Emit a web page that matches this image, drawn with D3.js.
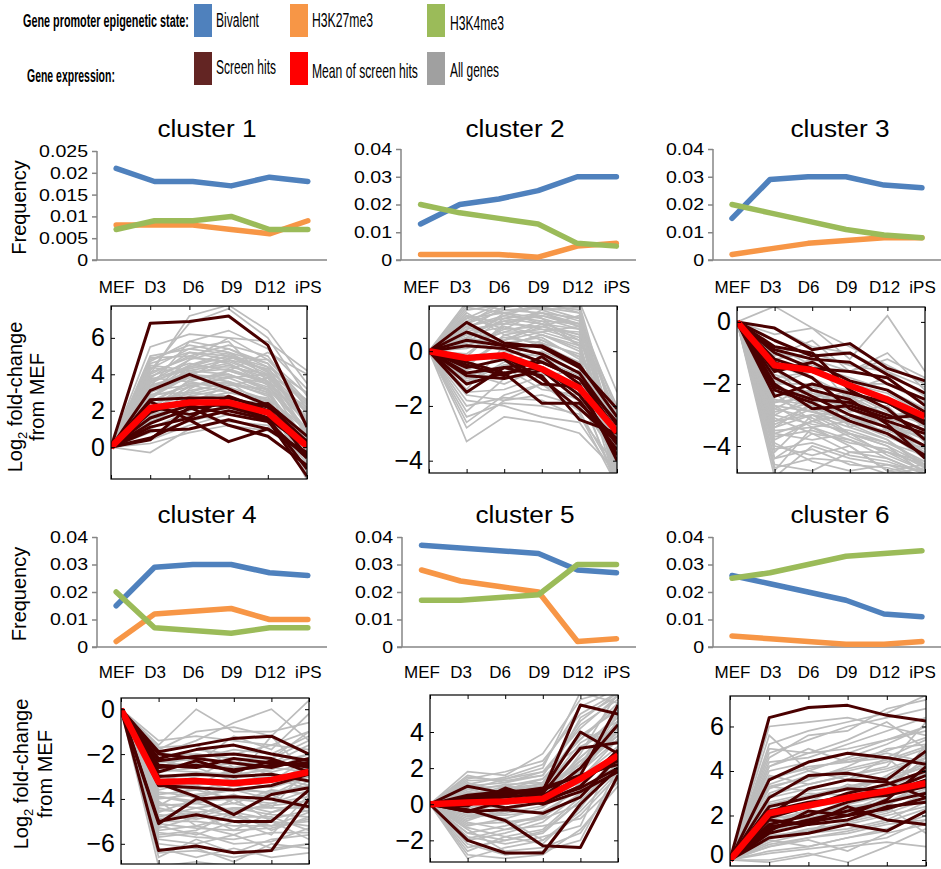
<!DOCTYPE html>
<html>
<head>
<meta charset="utf-8">
<script src="https://cdn.jsdelivr.net/npm/d3@7"></script>
<style>
body { margin: 0; background: #fff; }
svg { display: block; font-family: "Liberation Sans", Arial, sans-serif; }
</style>
</head>
<body>
<svg id="fig" width="941" height="869"></svg>
<script>
// ---- data ----
stages = ["MEF", "D3", "D6", "D9", "D12", "iPS"]
clusterNames = ["cluster 1", "cluster 2", "cluster 3", "cluster 4", "cluster 5", "cluster 6"]

// promoter epigenetic state frequency, one row per cluster
bivalent = [
  [0.021, 0.018, 0.018, 0.017, 0.019, 0.018],
  [0.013, 0.020, 0.022, 0.025, 0.030, 0.030],
  [0.015, 0.029, 0.030, 0.030, 0.027, 0.026],
  [0.015, 0.029, 0.030, 0.030, 0.027, 0.026],
  [0.037, 0.036, 0.035, 0.034, 0.028, 0.027],
  [0.026, 0.023, 0.020, 0.017, 0.012, 0.011]
]
h3k27me3 = [
  [0.008, 0.008, 0.008, 0.007, 0.006, 0.009],
  [0.002, 0.002, 0.002, 0.001, 0.005, 0.006],
  [0.002, 0.004, 0.006, 0.007, 0.008, 0.008],
  [0.002, 0.012, 0.013, 0.014, 0.010, 0.010],
  [0.028, 0.024, 0.022, 0.020, 0.002, 0.003],
  [0.004, 0.003, 0.002, 0.001, 0.001, 0.002]
]
h3k4me3 = [
  [0.007, 0.009, 0.009, 0.010, 0.007, 0.007],
  [0.020, 0.017, 0.015, 0.013, 0.006, 0.005],
  [0.020, 0.017, 0.014, 0.011, 0.009, 0.008],
  [0.020, 0.007, 0.006, 0.005, 0.007, 0.007],
  [0.017, 0.017, 0.018, 0.019, 0.030, 0.030],
  [0.025, 0.027, 0.030, 0.033, 0.034, 0.035]
]
freqTicks = [
  [0, 0.005, 0.01, 0.015, 0.02, 0.025],
  [0, 0.01, 0.02, 0.03, 0.04],
  [0, 0.01, 0.02, 0.03, 0.04],
  [0, 0.01, 0.02, 0.03, 0.04],
  [0, 0.01, 0.02, 0.03, 0.04],
  [0, 0.01, 0.02, 0.03, 0.04]
]

// log2 fold-change from MEF
hitMeans = [
  [0, 2.15, 2.45, 2.45, 1.9, 0.05],
  [0, -0.25, -0.15, -0.65, -1.35, -2.95],
  [0, -1.4, -1.55, -2.05, -2.5, -3.05],
  [0, -3.25, -3.2, -3.3, -3.15, -2.8],
  [0, 0.1, 0.15, 0.3, 1.4, 2.7],
  [0, 2.1, 2.45, 2.8, 3.1, 3.45]
]
exprTicks = [[0, 2, 4, 6], [-4, -2, 0], [-4, -2, 0], [-6, -4, -2, 0], [-2, 0, 2, 4], [0, 2, 4, 6]]

hits1 = [
  [0, 6.8, 6.9, 7.2, 5.6, 1.1], [0, 3.1, 4.0, 3.2, 2.3, 0.3], [0, 2.6, 2.7, 2.7, 2.2, -0.5],
  [0, 2.5, 1.5, 0.3, 1.0, -0.4], [0, 1.3, 2.1, 2.4, 1.6, -1.2], [0, 0.5, 1.5, 2.0, 1.5, -1.6],
  [0, 1.6, 2.3, 1.8, 1.4, -0.6], [0, 2.2, 1.8, 2.2, 2.4, 0.6], [0, 0.9, 1.0, 1.5, 1.0, -0.3],
  [0, 1.9, 2.6, 2.2, 1.6, 0.0], [0, 0.4, 2.2, 1.2, 0.6, -1.0], [0, 1.1, 1.6, 2.8, 2.0, 0.3]
]
hits2 = [
  [0, 1.05, 0.3, 0.15, -0.6, -2.1], [0, 0.7, 0.2, 0.2, -0.5, -2.4], [0, 0.4, 0.2, -0.1, -0.8, -2.7],
  [0, -1.5, -0.6, -0.4, -1.0, -2.9], [0, -1.2, -0.8, -1.9, -1.9, -3.2], [0, -0.4, -0.8, -0.6, -1.6, -3.4],
  [0, -0.8, -0.6, -0.9, -2.5, -3.0], [0, -0.6, -0.3, -1.2, -1.3, -3.8], [0, 0.2, 0.1, -0.4, -1.0, -2.6],
  [0, -0.9, -1.0, -0.7, -1.8, -3.6], [0, -0.2, -0.2, -1.0, -2.1, -3.3], [0, -0.5, -0.9, -0.2, -1.2, -4.0]
]
hits3 = [
  [0, -0.2, -0.9, -0.7, -1.5, -1.9], [0, -0.6, -1.1, -1.0, -1.7, -2.3], [0, -0.9, -1.2, -1.3, -2.0, -2.5],
  [0, -1.0, -1.5, -1.6, -1.8, -2.7], [0, -1.6, -1.3, -1.9, -2.2, -2.9], [0, -2.4, -2.0, -2.3, -2.6, -3.2],
  [0, -2.1, -2.5, -2.6, -3.0, -3.5], [0, -1.3, -1.8, -2.8, -3.2, -3.6], [0, -1.8, -2.4, -3.0, -3.4, -4.0],
  [0, -2.2, -2.6, -3.2, -3.6, -4.3], [0, -0.8, -1.0, -2.2, -2.8, -3.8], [0, -1.5, -2.2, -2.5, -3.3, -4.4],
  [0, -1.2, -1.6, -2.0, -2.6, -3.3], [0, -2.0, -2.8, -2.7, -3.1, -3.0]
]
hits4 = [
  [0, -1.9, -1.6, -1.3, -1.2, -2.0], [0, -2.2, -1.8, -1.6, -2.0, -2.3], [0, -2.0, -2.2, -2.4, -2.6, -2.2],
  [0, -2.5, -2.6, -2.2, -2.4, -2.5], [0, -2.8, -2.3, -2.8, -2.3, -2.6], [0, -3.0, -2.9, -3.0, -2.9, -3.2],
  [0, -3.4, -3.5, -3.6, -3.4, -2.9], [0, -3.3, -3.9, -4.7, -3.8, -3.5], [0, -5.0, -4.7, -5.0, -5.0, -3.6],
  [0, -5.1, -4.0, -3.9, -4.0, -4.35], [0, -6.3, -6.1, -6.4, -6.3, -4.0], [0, -2.6, -2.5, -2.7, -2.5, -2.4],
  [0, -2.3, -2.1, -2.0, -2.2, -2.8]
]
hits5 = [
  [0, 1.0, 0.6, 0.7, 5.5, 5.0], [0, 0.3, 0.5, 0.8, 4.0, 2.8], [0, 0.2, 0.4, 0.6, 3.1, 3.4],
  [0, 0.1, 0.6, 0.9, 1.6, 5.5], [0, 0.2, 0.8, 0.4, 2.0, 4.4], [0, -0.4, 0.2, 0.5, 1.4, 2.4],
  [0, -0.1, 0.9, 0.2, 0.9, 2.0], [0, 0.4, 0.6, 0.0, 0.7, 1.8], [0, -0.3, -0.9, -2.3, -2.4, 1.6],
  [0, -2.0, -2.7, -2.7, 0.0, 2.0], [0, -0.4, -0.3, -0.5, 0.4, 2.6], [0, 0.2, -0.2, 0.1, 1.0, 3.0],
  [0, 0.5, 0.7, 0.8, 1.6, 2.2]
]
hits6 = [
  [0, 6.4, 6.85, 6.95, 6.5, 6.25], [0, 3.6, 4.4, 4.8, 4.6, 4.3], [0, 2.8, 3.8, 3.9, 3.6, 4.9],
  [0, 2.0, 3.2, 3.6, 3.5, 2.8], [0, 1.9, 2.4, 3.0, 3.4, 4.0], [0, 1.6, 2.0, 2.6, 3.0, 3.6],
  [0, 1.4, 1.8, 2.2, 2.6, 3.0], [0, 1.2, 1.6, 1.8, 2.4, 2.6], [0, 1.8, 1.6, 2.4, 1.8, 1.6],
  [0, 1.0, 1.2, 1.6, 1.3, 2.2], [0, 2.2, 2.6, 2.8, 2.9, 3.3], [0, 1.5, 1.7, 2.0, 2.3, 2.8],
  [0, 1.3, 2.2, 2.0, 2.7, 4.2], [0, 2.4, 2.8, 3.2, 3.1, 3.8]
]

genes1 = [
  [0, 4.8, 5.6, 5.2, 4.1, 2.0], [0, 4.2, 6.8, 7.6, 6.0, 2.8], [0, 3.5, 4.5, 5.0, 4.2, 1.2],
  [0, 2.8, 4.0, 4.5, 3.8, 0.6], [0, 5.5, 6.2, 6.0, 4.8, 2.5], [0, 3.9, 4.6, 4.2, 3.5, 0.2],
  [0, 2.2, 3.3, 3.8, 3.0, -0.5], [0, 1.5, 2.8, 3.2, 2.4, -1.0], [0, 4.6, 5.2, 4.8, 3.9, 1.5],
  [0, 3.0, 3.8, 4.0, 3.2, 0.9], [0, -0.3, 1.0, 1.5, 1.0, -0.6], [0, 0.8, 1.4, 2.0, 1.8, -0.2],
  [0, 1.0, 2.0, 2.6, 2.0, 0.3], [0, 3.3, 5.8, 6.4, 5.4, 3.2], [0, 4.0, 5.0, 5.6, 5.0, 2.1],
  [0, 2.5, 3.5, 3.3, 2.6, 0.0], [0, 4.4, 4.0, 3.6, 2.8, -0.8], [0, 3.6, 4.8, 5.4, 4.6, 1.8],
  [0, 2.0, 2.6, 3.0, 2.5, -1.4], [0, 3.2, 4.2, 4.6, 3.4, 1.0], [0, 4.9, 5.0, 4.6, 3.6, 0.7],
  [0, 1.2, 3.2, 4.2, 3.6, 1.4], [0, 2.6, 4.4, 5.0, 4.4, 3.0], [0, 3.8, 3.6, 3.2, 2.2, -1.8],
  [0, 0.4, 1.2, 1.8, 1.4, 0.2], [0, 4.0, 7.2, 7.8, 6.4, 3.5], [0, 1.8, 2.2, 2.0, 1.6, -0.9],
  [0, 2.9, 3.0, 3.6, 3.0, 0.4], [0, 4.3, 5.4, 5.8, 3.6, 2.2], [0, 3.4, 4.0, 3.8, 4.0, 1.6],
  [0, 2.4, 3.6, 4.2, 5.2, 4.0], [0, 1.6, 1.8, 1.4, 1.2, -1.2], [0, 3.0, 4.8, 6.0, 5.8, 4.2],
  [0, 2.1, 3.0, 2.8, 2.0, 0.8], [0, 3.7, 4.4, 4.4, 4.0, 2.6], [0, 4.7, 5.8, 5.4, 4.4, 1.1],
  [0, 1.4, 2.4, 3.4, 3.2, -0.3], [0, 2.7, 3.9, 4.9, 4.8, 2.9], [0, 3.1, 3.4, 3.0, 2.6, -1.6],
  [0, 0.2, 0.8, 1.2, 0.9, -0.4], [0, 3.3, 4.1, 4.3, 3.6, 1.3], [0, 2.3, 3.1, 3.5, 2.9, 0.5],
  [0, 4.1, 4.9, 4.7, 3.9, 1.9], [0, 3.6, 4.3, 4.8, 4.3, 2.3], [0, 2.0, 3.7, 4.0, 3.1, 0.1],
  [0, 1.7, 2.5, 3.0, 2.7, 0.9], [0, 4.5, 4.2, 4.0, 3.3, 1.0], [0, 2.8, 3.3, 3.9, 3.5, 1.7],
  [0, 3.0, 4.5, 5.2, 4.6, 2.4], [0, 1.9, 3.4, 3.6, 2.2, -0.2], [0, 3.8, 5.2, 5.0, 4.0, 0.8],
  [0, 2.6, 2.9, 3.4, 3.8, 2.0], [0, 1.1, 1.7, 2.3, 2.6, 1.1], [0, 5.0, 5.4, 5.1, 4.2, 1.4]
]
genes2 = [
  [0, 1.8, 1.5, 1.6, 1.2, -2.4], [0, 1.2, 1.4, 1.0, 0.6, -3.0], [0, 0.8, 1.0, 1.3, 0.9, -4.8],
  [0, -1.6, -1.8, -1.2, -2.2, -4.6], [0, -3.3, -2.4, -2.6, -3.0, -4.4], [0, -2.0, -1.7, -1.8, -2.4, -4.2],
  [0, 0.3, 1.2, 1.0, 0.2, -3.8], [0, -0.6, 0.6, 0.8, 0.4, -2.8], [0, 1.0, 1.8, 1.6, 1.8, -1.5],
  [0, 0.5, 0.2, 0.6, 0.1, -3.4], [0, -1.0, -0.8, -0.4, -1.0, -3.6], [0, -2.6, -1.6, -1.2, -1.8, -4.0],
  [0, 1.4, 0.6, 0.2, -0.4, -5.0], [0, 0.9, 1.2, 1.4, 1.0, -2.0], [0, -0.3, -0.2, 0.3, -0.5, -4.2],
  [0, -1.4, 0.2, 0.6, 0.0, -3.2], [0, 1.6, 1.4, 1.2, 0.8, -4.5], [0, 0.6, 0.9, 0.4, -0.2, -2.6],
  [0, -0.8, -1.2, -0.6, -1.4, -5.0], [0, -2.2, -1.0, -0.8, -1.2, -3.0], [0, 1.1, 1.6, 1.8, 1.4, -3.6],
  [0, 0.2, 0.7, 1.1, 0.4, -4.8], [0, -1.8, -2.0, -2.4, -2.6, -4.6], [0, 0.4, 0.0, -0.2, -0.8, -3.9],
  [0, 1.7, 1.9, 1.2, 0.2, -4.2], [0, -0.4, 0.4, 0.9, 1.3, -2.2], [0, -1.2, -0.4, 0.0, -0.6, -4.4],
  [0, 0.7, 1.1, 0.8, 0.7, -3.3], [0, -2.8, -1.8, -1.6, -2.0, -3.7], [0, 1.3, 0.8, 1.5, 1.6, -4.0],
  [0, -0.9, -0.6, -1.4, -1.6, -4.8], [0, 0.1, 0.5, 0.3, -0.1, -2.8], [0, 1.5, 1.7, 2.0, 1.7, -3.0],
  [0, -1.5, -1.4, -0.9, -0.7, -3.5], [0, 0.9, 0.3, 0.5, -0.3, -4.6], [0, -0.2, 1.0, 1.4, 0.9, -5.2],
  [0, -2.4, -1.9, -2.0, -2.3, -4.9], [0, 0.5, 1.3, 1.1, 1.0, -2.5], [0, 0.6, 1.1, 1.3, 1.0, -3.1],
  [0, 1.0, 1.5, 1.4, 1.2, -3.8], [0, 0.2, 0.8, 0.9, 0.6, -4.1], [0, 0.9, 1.3, 1.7, 1.5, -3.4],
  [0, -0.5, 0.4, 0.7, 0.3, -4.4], [0, 1.3, 1.0, 0.9, 0.5, -2.9], [0, 0.4, 1.4, 1.6, 1.4, -4.7],
  [0, -0.1, 0.9, 0.6, 0.2, -3.7], [0, 0.7, 0.4, 1.0, 0.8, -2.3], [0, 1.2, 1.8, 1.5, 1.1, -4.3],
  [0, -0.7, -0.2, 0.4, -0.2, -3.9], [0, 0.3, 0.7, 0.7, 0.9, -4.9], [0, -1.1, -0.5, -0.3, -0.9, -3.1],
  [0, 0.8, 1.6, 1.9, 1.6, -4.0]
]
genes3 = [
  [0, 0.5, -0.2, -0.8, -1.4, -2.0], [0, -0.4, -0.2, -1.2, 0.2, -1.6], [0, -1.0, -1.2, -1.6, -1.0, -2.2],
  [0, -1.8, -1.6, -2.0, -2.3, -3.0], [0, -2.6, -2.4, -2.8, -3.4, -4.2], [0, -3.2, -3.0, -3.4, -3.8, -4.6],
  [0, -4.4, -3.6, -3.8, -4.2, -4.8], [0, -5.0, -4.0, -4.4, -4.6, -5.0], [0, -2.9, -2.6, -3.0, -3.2, -3.6],
  [0, -2.2, -2.8, -3.6, -4.0, -4.9], [0, -3.8, -3.2, -3.0, -3.6, -4.4], [0, -1.4, -1.8, -2.4, -2.6, -3.4],
  [0, -2.0, -2.0, -2.2, -2.8, -3.8], [0, -3.5, -3.4, -3.8, -4.4, -4.9], [0, -2.4, -2.2, -2.6, -3.0, -2.9],
  [0, -1.2, -1.0, -1.4, -1.6, -2.4], [0, -4.0, -4.3, -4.0, -4.8, -4.6], [0, -2.7, -3.4, -3.2, -3.6, -4.0],
  [0, -0.8, -1.4, -1.8, -2.2, -2.8], [0, -3.0, -2.4, -2.4, -3.0, -4.4], [0, -4.6, -4.8, -4.2, -4.4, -4.9],
  [0, -1.6, -1.2, -2.6, -2.4, -3.2], [0, -2.5, -2.9, -3.3, -3.8, -4.7], [0, -3.6, -3.8, -3.6, -3.9, -4.3],
  [0, -2.0, -1.6, -2.0, -2.0, -2.6], [0, -3.3, -2.8, -3.1, -3.4, -3.6], [0, -4.2, -3.0, -3.6, -4.0, -4.6],
  [0, -1.1, -0.6, -1.6, -1.2, -1.8], [0, -2.8, -2.2, -2.9, -2.7, -3.9], [0, -3.9, -4.5, -4.8, -4.6, -4.8],
  [0, -1.9, -2.3, -2.7, -3.2, -4.1], [0, -2.3, -3.2, -2.6, -3.5, -3.3], [0, -4.8, -3.4, -4.0, -4.8, -5.0],
  [0, -3.1, -3.6, -4.2, -4.2, -4.5], [0, -1.5, -2.6, -2.2, -1.8, -2.7], [0, -2.6, -2.0, -3.4, -3.0, -3.0],
  [0, -0.2, -0.8, -1.0, -1.6, -2.1], [0, -3.4, -2.6, -2.4, -3.2, -4.0], [0, -2.7, -2.9, -3.1, -3.6, -4.1],
  [0, -3.0, -3.3, -3.5, -3.9, -4.5], [0, -3.4, -3.0, -3.2, -3.7, -4.2], [0, -2.5, -2.7, -2.8, -3.3, -3.8],
  [0, -3.7, -3.5, -3.9, -4.1, -4.7], [0, -4.1, -3.9, -4.3, -4.5, -4.9], [0, -2.2, -2.5, -2.7, -3.1, -3.5],
  [0, -3.2, -2.7, -3.3, -3.5, -4.0], [0, -4.4, -4.1, -4.6, -4.7, -5.0], [0, -2.8, -3.1, -3.7, -4.2, -4.6],
  [0, -3.6, -3.2, -3.6, -4.3, -4.8], [0, -1.7, -2.1, -2.3, -2.9, -3.3], [0, -4.7, -4.4, -4.5, -4.9, -4.7],
  [0, -2.0, -2.6, -3.0, -3.4, -3.7]
]
genes4 = [
  [0, -1.4, -1.2, -1.4, -1.6, -1.0], [0, -1.6, 0.0, -1.0, -1.0, -0.6], [0, -2.0, -1.4, -0.6, 0.0, -1.4],
  [0, -1.8, -1.0, -0.8, -1.2, 0.4], [0, -2.4, -2.2, -1.8, -2.0, -1.2], [0, -2.8, -2.6, -2.4, -2.4, -2.0],
  [0, -3.0, -3.0, -2.8, -3.2, -2.2], [0, -3.4, -3.6, -3.2, -3.0, -3.4], [0, -3.8, -3.6, -4.0, -3.8, -3.0],
  [0, -4.2, -4.4, -4.2, -4.6, -4.0], [0, -4.6, -4.0, -4.6, -4.2, -3.6], [0, -5.0, -5.0, -5.2, -5.2, -4.6],
  [0, -5.4, -5.2, -5.6, -5.0, -5.2], [0, -5.8, -6.0, -5.6, -6.2, -6.0], [0, -6.2, -6.6, -6.2, -6.6, -6.4],
  [0, -7.0, -6.8, -7.0, -7.0, -6.9], [0, -2.2, -1.8, -2.0, -1.6, -1.8], [0, -3.2, -2.8, -3.0, -2.6, -2.8],
  [0, -4.0, -3.8, -3.6, -4.0, -3.2], [0, -4.8, -4.4, -4.8, -4.8, -5.4], [0, -2.6, -2.0, -2.2, -2.4, -1.6],
  [0, -3.6, -3.2, -3.6, -3.4, -2.4], [0, -4.4, -4.8, -4.4, -4.4, -4.4], [0, -5.2, -5.6, -5.0, -5.6, -3.8],
  [0, -6.6, -5.8, -6.4, -5.8, -5.6], [0, -1.9, -2.4, -1.2, -1.8, -0.2], [0, -2.9, -3.4, -2.6, -2.2, -1.0],
  [0, -3.9, -4.2, -3.8, -4.4, -2.6], [0, -4.3, -3.4, -4.2, -3.6, -3.8], [0, -5.6, -5.4, -4.6, -5.4, -4.8],
  [0, -6.0, -6.2, -6.8, -6.0, -6.2], [0, -1.7, -1.6, -2.6, -2.8, -2.4], [0, -3.3, -4.0, -3.4, -3.8, -4.6],
  [0, -4.9, -4.6, -5.4, -4.6, -4.2], [0, -2.3, -2.6, -3.2, -1.2, -3.0], [0, -3.5, -3.0, -2.2, -3.0, -3.6],
  [0, -5.3, -4.8, -4.0, -5.0, -5.8], [0, -4.1, -5.2, -4.8, -5.2, -5.0], [0, -2.5, -2.4, -2.6, -2.5, -2.3],
  [0, -3.1, -3.2, -3.4, -3.2, -2.6], [0, -3.7, -3.9, -3.6, -3.7, -3.4], [0, -4.3, -4.2, -4.5, -4.3, -4.1],
  [0, -4.7, -4.9, -4.6, -4.9, -4.5], [0, -5.1, -5.3, -5.4, -5.3, -4.9], [0, -5.5, -5.7, -5.8, -5.5, -5.5],
  [0, -2.0, -2.0, -2.2, -2.2, -1.4], [0, -2.7, -2.8, -2.9, -2.7, -2.0], [0, -3.3, -3.4, -3.1, -3.5, -3.0],
  [0, -3.9, -4.1, -4.0, -4.2, -3.9], [0, -4.5, -4.6, -4.4, -4.7, -4.8], [0, -5.7, -5.5, -6.0, -5.9, -5.3],
  [0, -6.4, -6.3, -6.6, -6.3, -6.0]
]
genes5 = [
  [0, 1.8, 1.6, 2.8, 5.8, 6.4], [0, 1.4, 1.8, 2.4, 5.0, 6.2], [0, 1.0, 1.2, 1.6, 4.4, 5.8],
  [0, 0.6, 0.8, 1.4, 3.6, 5.4], [0, 0.2, 0.4, 1.0, 3.0, 4.8], [0, -0.4, 0.0, 0.6, 2.6, 4.4],
  [0, -0.8, -0.4, 0.2, 2.0, 4.0], [0, -1.2, -0.8, -0.2, 1.4, 3.6], [0, -1.6, -1.2, -0.6, 1.0, 3.0],
  [0, -2.0, -1.6, -1.0, 0.6, 2.6], [0, -2.4, -2.0, -1.6, 0.2, 2.2], [0, -3.0, -2.4, -2.0, -0.4, 1.8],
  [0, 0.8, 1.4, 2.0, 6.2, 5.6], [0, 1.2, 0.6, 1.2, 4.0, 3.4], [0, 0.4, 1.0, 0.8, 2.2, 4.6],
  [0, -0.2, 0.2, 0.4, 1.6, 2.4], [0, -0.6, -0.6, -0.4, 0.8, 1.6], [0, -1.0, -1.4, -1.2, -0.8, 1.2],
  [0, -1.4, -2.6, -2.4, -1.6, 1.4], [0, -2.2, -2.8, -2.6, -2.0, 2.0], [0, -1.8, -2.2, -1.8, -1.2, 3.2],
  [0, 0.5, 0.3, 0.6, 1.8, 5.0], [0, 1.6, 1.2, 1.8, 3.2, 4.2], [0, 0.0, -0.2, 0.1, 2.8, 6.2],
  [0, -0.3, -1.0, -0.8, 1.2, 2.8], [0, -2.6, -1.8, -2.2, -0.2, 2.4], [0, 0.3, 0.6, 1.0, 4.8, 6.0],
  [0, -0.9, -0.2, 0.4, 2.4, 3.8], [0, -1.3, -1.8, -1.4, 0.4, 2.2], [0, 1.1, 1.5, 2.2, 5.4, 6.4],
  [0, 0.9, 0.2, 0.3, 1.2, 3.0], [0, -0.5, -0.8, -2.0, -0.6, 1.6], [0, -1.9, -1.4, -0.8, 0.0, 2.6],
  [0, -2.8, -3.0, -2.8, -1.4, 1.0], [0, 0.7, 1.1, 1.2, 3.8, 5.2], [0, -0.1, 0.5, 0.8, 3.4, 4.6],
  [0, 0.3, 0.5, 0.8, 2.4, 4.0], [0, 0.6, 0.9, 1.1, 3.0, 5.0], [0, 0.1, 0.4, 0.6, 1.8, 3.6],
  [0, -0.3, 0.0, 0.3, 1.5, 3.2], [0, 0.9, 1.0, 1.4, 3.6, 5.6], [0, -0.7, -0.5, -0.1, 1.1, 2.7],
  [0, 1.3, 1.4, 1.8, 4.2, 6.0], [0, 0.2, 0.1, 0.5, 2.6, 4.4], [0, -1.1, -1.0, -0.7, 0.6, 2.2],
  [0, 0.5, 0.8, 1.0, 2.0, 3.8], [0, -0.4, -0.3, 0.2, 1.7, 4.2], [0, 1.5, 1.3, 1.6, 4.6, 6.2],
  [0, -1.6, -2.0, -1.5, 0.2, 1.8], [0, 0.0, 0.3, 0.7, 2.2, 5.2]
]
genes6 = [
  [0, 5.2, 5.8, 6.2, 6.6, 7.4], [0, 4.8, 5.4, 6.0, 6.4, 6.8], [0, 4.4, 4.6, 5.2, 5.8, 6.4],
  [0, 4.0, 4.4, 4.8, 5.4, 5.8], [0, 3.6, 4.2, 4.4, 4.6, 5.4], [0, 3.2, 3.8, 4.0, 4.4, 5.0],
  [0, 2.8, 3.2, 3.6, 4.0, 4.6], [0, 2.4, 2.8, 3.2, 3.6, 4.2], [0, 2.0, 2.4, 2.8, 3.2, 3.8],
  [0, 1.6, 2.0, 2.4, 2.6, 3.4], [0, 1.2, 1.6, 1.8, 2.2, 3.0], [0, 0.8, 1.2, 1.4, 1.8, 2.6],
  [0, 0.4, 0.6, 1.0, 1.4, 2.0], [0, 0.0, 0.3, -0.1, 0.6, 1.4], [0, -0.1, 0.2, 0.6, 0.8, 0.6],
  [0, 0.6, 0.9, 0.4, 1.2, 1.6], [0, 6.0, 6.2, 6.4, 6.0, 5.6], [0, 5.6, 4.0, 4.6, 5.2, 6.0],
  [0, 4.2, 5.0, 4.4, 4.8, 4.4], [0, 3.8, 3.4, 3.8, 4.2, 6.2], [0, 3.0, 3.6, 4.2, 5.0, 5.2],
  [0, 2.2, 2.6, 3.4, 3.0, 3.6], [0, 1.8, 2.2, 2.0, 2.8, 4.0], [0, 1.4, 1.8, 2.6, 3.4, 2.8],
  [0, 1.0, 1.4, 1.6, 2.0, 2.4], [0, 0.7, 1.0, 1.2, 1.6, 1.8], [0, 2.6, 3.0, 2.9, 3.8, 4.8],
  [0, 3.4, 4.0, 3.6, 4.6, 3.2], [0, 4.6, 5.6, 5.8, 6.8, 7.2], [0, 2.0, 1.8, 2.2, 2.4, 1.2],
  [0, 1.5, 2.3, 3.0, 3.2, 4.6], [0, 0.9, 0.6, 1.0, 1.3, 2.2], [0, 5.0, 4.8, 5.4, 6.2, 5.0],
  [0, 3.3, 3.1, 3.3, 3.6, 4.2], [0, 2.5, 2.0, 2.4, 2.2, 3.0], [0, 1.1, 1.3, 2.0, 2.4, 3.6],
  [0, 1.3, 1.7, 2.1, 2.5, 3.1], [0, 1.7, 2.1, 2.5, 2.9, 3.5], [0, 2.1, 2.5, 2.9, 3.3, 3.9],
  [0, 2.5, 2.9, 3.3, 3.7, 4.3], [0, 2.9, 3.4, 3.8, 4.1, 4.7], [0, 3.3, 3.7, 4.1, 4.5, 5.1],
  [0, 1.0, 1.3, 1.7, 2.1, 2.7], [0, 0.6, 1.0, 1.3, 1.7, 2.3], [0, 3.7, 4.1, 4.5, 4.9, 5.5],
  [0, 4.2, 4.8, 5.0, 5.4, 6.0], [0, 2.3, 2.4, 2.6, 3.4, 4.4], [0, 1.9, 2.0, 2.3, 2.6, 3.2],
  [0, 1.2, 1.9, 2.2, 2.9, 5.2], [0, 0.3, 0.5, 0.7, 1.0, 1.8]
]
allHits = [hits1, hits2, hits3, hits4, hits5, hits6]
allGenes = [genes1, genes2, genes3, genes4, genes5, genes6]

// ---- layout ----
freqLayout = [
  {x0: 97, x1: 327, top: 151, bottom: 260, tx: 207, ty: 137, lab: 293},
  {x0: 401, x1: 636, top: 149, bottom: 260, tx: 515, ty: 137, lab: 293},
  {x0: 713, x1: 941, top: 149, bottom: 260, tx: 840, ty: 137, lab: 293},
  {x0: 97, x1: 327, top: 537, bottom: 647, tx: 207, ty: 523, lab: 678},
  {x0: 402, x1: 636, top: 537, bottom: 647, tx: 525, ty: 523, lab: 678},
  {x0: 713, x1: 941, top: 537, bottom: 647, tx: 840, ty: 523, lab: 678}
]
exprLayout = [
  {x0: 111, x1: 307, top: 306, bottom: 479, lo: -1.75, hi: 7.75},
  {x0: 429, x1: 617, top: 306, bottom: 473, lo: -4.45, hi: 1.65},
  {x0: 737, x1: 925, top: 307, bottom: 473, lo: -4.87, hi: 0.48},
  {x0: 121, x1: 309, top: 698, bottom: 864, lo: -6.9, hi: 0.5},
  {x0: 430, x1: 618, top: 695, bottom: 862, lo: -3.2, hi: 6.05},
  {x0: 730, x1: 926, top: 696, bottom: 866, lo: -0.27, hi: 7.37}
]
stateColors = ["#4f81bd", "#f79646", "#9bbb59"]
hitColor = "#4a0000"
geneColor = "#bcbcbc"

svg = d3.select("#fig")

function stretch(sel, sx) {
  sel.each(function() {
    var w = this.getComputedTextLength()
    d3.select(this).attr("textLength", w * sx).attr("lengthAdjust", "spacingAndGlyphs")
  })
}

// squeeze a legend label to a measured width with a horizontal scale
function squeezed(parent, label, x, y, w, size, bold) {
  var t = parent.append("text")
    .attr("font-size", size)
    .attr("font-weight", bold ? "bold" : null)
    .text(label)
  var natural = t.node().getComputedTextLength()
  t.attr("transform", "translate(" + x + "," + y + ") scale(" + (w / natural) + ",1)")
  return t
}

// ---- legend ----
legendItems = [
  {label: "Bivalent", color: stateColors[0], x: 194, y: 4, tx: 216, ty: 27, w: 43},
  {label: "H3K27me3", color: stateColors[1], x: 290, y: 4, tx: 312, ty: 27, w: 61},
  {label: "H3K4me3", color: stateColors[2], x: 427, y: 4, tx: 450, ty: 30, w: 54},
  {label: "Screen hits", color: "#632523", x: 194, y: 52, tx: 216, ty: 74, w: 60},
  {label: "Mean of screen hits", color: "#ff0000", x: 290, y: 52, tx: 312, ty: 78, w: 106},
  {label: "All genes", color: "#a0a0a0", x: 427, y: 52, tx: 450, ty: 77, w: 49}
]
legend = svg.append("g")
legend.selectAll("rect").data(legendItems).enter().append("rect")
  .attr("x", d => d.x).attr("y", d => d.y)
  .attr("width", 18).attr("height", 33)
  .attr("fill", d => d.color)
legendItems.forEach(d => squeezed(legend, d.label, d.tx, d.ty, d.w, 21, false))
squeezed(legend, "Gene promoter epigenetic state:", 23, 27, 166, 19, true)
squeezed(legend, "Gene expression:", 27, 82, 88, 19, true)

// ---- frequency panels ----
freqLayout.forEach(function(L, i) {
  var g = svg.append("g")
  var x = d3.scalePoint().domain(stages).range([L.x0, L.x1]).padding(0.5)
  var ticks = freqTicks[i]
  var y = d3.scaleLinear().domain([0, d3.max(ticks)]).range([L.bottom, L.top])

  var yAxis = g.append("g")
    .attr("transform", "translate(" + L.x0 + ",0)")
    .call(d3.axisLeft(y).tickValues(ticks).tickSize(5).tickPadding(4).tickFormat(d => String(d)))
  yAxis.selectAll("path, line").attr("stroke", "#868686").attr("stroke-width", 1.5)
  yAxis.selectAll("text").attr("font-size", 17).attr("fill", "#000").attr("font-family", null)
  yAxis.select(".domain").attr("d", "M0," + L.top + "V" + L.bottom)
  stretch(yAxis.selectAll("text"), 1.15)

  g.append("line")
    .attr("x1", L.x0 - 5).attr("x2", L.x1)
    .attr("y1", L.bottom).attr("y2", L.bottom)
    .attr("stroke", "#868686").attr("stroke-width", 1.5)

  var xAxis = g.append("g")
    .attr("transform", "translate(0," + L.bottom + ")")
    .call(d3.axisBottom(x).tickSize(0).tickPadding(L.lab - L.bottom - 12))
  xAxis.select(".domain").remove()
  xAxis.selectAll("text").attr("font-size", 17).attr("fill", "#000").attr("font-family", null)

  var line = d3.line().x((d, j) => x(stages[j])).y(d => y(d))
  ;[bivalent[i], h3k27me3[i], h3k4me3[i]].forEach(function(series, k) {
    g.append("path").datum(series)
      .attr("d", line)
      .attr("fill", "none")
      .attr("stroke", stateColors[k])
      .attr("stroke-width", 5.5)
      .attr("stroke-linejoin", "round")
      .attr("stroke-linecap", "round")
  })

  var title = g.append("text")
    .attr("x", L.tx).attr("y", L.ty)
    .attr("text-anchor", "middle")
    .attr("font-size", 23)
    .text(clusterNames[i])
  stretch(title, 1.14)

  if (i % 3 === 0) {
    g.append("text")
      .attr("transform", "translate(26," + ((L.top + L.bottom) / 2 + 2) + ") rotate(-90)")
      .attr("text-anchor", "middle")
      .attr("font-size", 20)
      .text("Frequency")
  }
})

// ---- expression panels ----
exprLayout.forEach(function(L, i) {
  var g = svg.append("g")
  var x = d3.scalePoint().domain(stages).range([L.x0, L.x1])
  var y = d3.scaleLinear().domain([L.lo, L.hi]).range([L.bottom, L.top])
  var line = d3.line().x((d, j) => x(stages[j])).y(d => y(d))

  g.append("clipPath").attr("id", "clip" + i)
    .append("rect")
    .attr("x", L.x0).attr("y", L.top)
    .attr("width", L.x1 - L.x0).attr("height", L.bottom - L.top)

  var plot = g.append("g").attr("clip-path", "url(#clip" + i + ")")
  plot.selectAll("path.gene").data(allGenes[i]).enter().append("path")
    .attr("class", "gene")
    .attr("d", line)
    .attr("fill", "none")
    .attr("stroke", geneColor)
    .attr("stroke-width", 1.7)
  plot.selectAll("path.hit").data(allHits[i]).enter().append("path")
    .attr("class", "hit")
    .attr("d", line)
    .attr("fill", "none")
    .attr("stroke", hitColor)
    .attr("stroke-width", 3)
    .attr("stroke-linejoin", "round")
  plot.append("path").datum(hitMeans[i])
    .attr("d", line)
    .attr("fill", "none")
    .attr("stroke", "#ff0000")
    .attr("stroke-width", 6.5)
    .attr("stroke-linejoin", "round")

  var left = g.append("g")
    .attr("transform", "translate(" + L.x0 + ",0)")
    .call(d3.axisLeft(y).tickValues(exprTicks[i]).tickSize(-4).tickPadding(6).tickFormat(d3.format("d")))
  left.select(".domain").remove()
  left.selectAll("text").attr("font-size", 25).attr("fill", "#000").attr("font-family", null)
  left.selectAll("line").attr("stroke", "#000")
  // lowest label of the last panel sits at the page edge; lift it a little
  if (i === 5) left.selectAll("text").filter(d => d === 0).attr("dy", "0.12em")

  var right = g.append("g")
    .attr("transform", "translate(" + L.x1 + ",0)")
    .call(d3.axisRight(y).tickValues(exprTicks[i]).tickSize(-4).tickFormat(""))
  right.select(".domain").remove()
  right.selectAll("line").attr("stroke", "#000")

  ;[[L.top, d3.axisTop], [L.bottom, d3.axisBottom]].forEach(function(p) {
    var ax = g.append("g")
      .attr("transform", "translate(0," + p[0] + ")")
      .call(p[1](x).tickSize(-4).tickFormat(""))
    ax.select(".domain").remove()
    ax.selectAll("line").attr("stroke", "#000")
  })

  g.append("rect")
    .attr("x", L.x0).attr("y", L.top)
    .attr("width", L.x1 - L.x0).attr("height", L.bottom - L.top)
    .attr("fill", "none").attr("stroke", "#000").attr("stroke-width", 1.2)

  if (i % 3 === 0) {
    var cy = i === 0 ? 397 : 774
    var bx = i === 0 ? [22, 44] : [28, 52]
    var t = g.append("text")
      .attr("transform", "translate(" + bx[0] + "," + cy + ") rotate(-90)")
      .attr("text-anchor", "middle")
      .attr("font-size", 20)
    t.append("tspan").text("Log")
    t.append("tspan").attr("font-size", 13).attr("dy", 5).text("2")
    t.append("tspan").attr("dy", -5).text(" fold-change")
    g.append("text")
      .attr("transform", "translate(" + bx[1] + "," + cy + ") rotate(-90)")
      .attr("text-anchor", "middle")
      .attr("font-size", 20)
      .text("from MEF")
  }
})
</script>
</body>
</html>
